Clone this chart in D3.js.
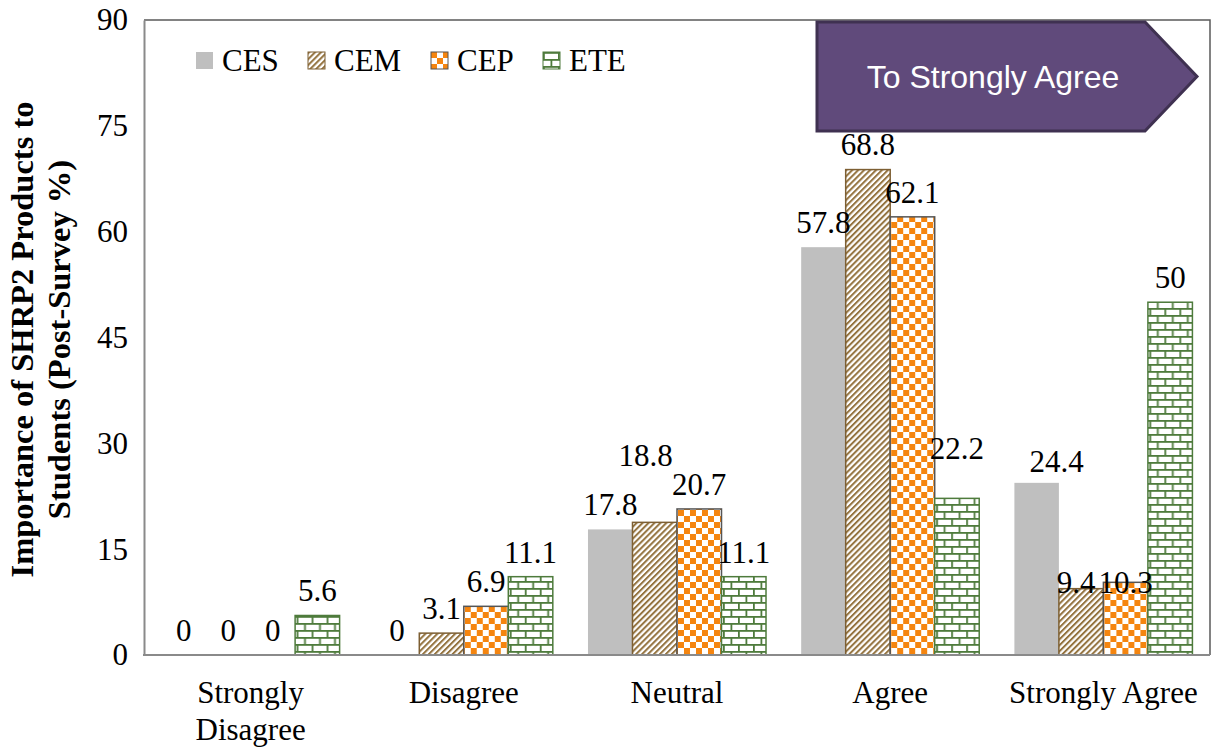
<!DOCTYPE html>
<html>
<head>
<meta charset="utf-8">
<script src="https://cdn.jsdelivr.net/npm/d3@7"></script>
<style>
  html, body { margin: 0; padding: 0; background: #fff; }
  svg { display: block; }
  .serif { font-family: "Liberation Serif", "Times New Roman", Tinos, "DejaVu Serif", serif; }
  .sans { font-family: "Liberation Sans", Arial, Helvetica, sans-serif; }
</style>
</head>
<body>
<script>
const categories = ["Strongly Disagree", "Disagree", "Neutral", "Agree", "Strongly Agree"];
const categoryLines = [["Strongly", "Disagree"], ["Disagree"], ["Neutral"], ["Agree"], ["Strongly Agree"]];
const seriesNames = ["CES", "CEM", "CEP", "ETE"];
const CES = [0, 0, 17.8, 57.8, 24.4];
const CEM = [0, 3.1, 18.8, 68.8, 9.4];
const CEP = [0, 6.9, 20.7, 62.1, 10.3];
const ETE = [5.6, 11.1, 11.1, 22.2, 50];
const yTicks = [0, 15, 30, 45, 60, 75, 90];
const yTitle = ["Importance of SHRP2 Products to", "Students (Post-Survey %)"];
const calloutText = "To Strongly Agree";
// manual label nudges (dx, dy) per series/category, as in the original
const labelNudge = {
  "CEM|Neutral": [-9, -42],
  "ETE|Agree": [0, -25],
  "CES|Strongly Agree": [20, 3],
  "CEM|Strongly Agree": [-5, 18],
  "CEP|Strongly Agree": [0, 25]
};

const seriesValues = { CES, CEM, CEP, ETE };

const W = 1219, H = 748;
const margin = { left: 144, right: 9, top: 20, bottom: 93 };
const FS = 31;
const svg = d3.select("body").append("svg").attr("width", W).attr("height", H);

const defs = svg.append("defs");
// CEM: upward diagonal stripes
const pCEM = defs.append("pattern").attr("id", "pCEM").attr("patternUnits", "userSpaceOnUse")
  .attr("width", 4.2).attr("height", 4.2).attr("patternTransform", "rotate(45)");
pCEM.append("rect").attr("width", 4.2).attr("height", 4.2).attr("fill", "#fff");
pCEM.append("rect").attr("x", 0).attr("width", 2).attr("height", 4.2).attr("fill", "#94733f");
// CEP: checkerboard
const pCEP = defs.append("pattern").attr("id", "pCEP").attr("patternUnits", "userSpaceOnUse")
  .attr("width", 12).attr("height", 12);
pCEP.append("rect").attr("width", 12).attr("height", 12).attr("fill", "#fff");
pCEP.append("rect").attr("x", 0).attr("y", 0).attr("width", 6).attr("height", 6).attr("fill", "#f5850f");
pCEP.append("rect").attr("x", 6).attr("y", 6).attr("width", 6).attr("height", 6).attr("fill", "#f5850f");
// ETE: horizontal bricks
const pETE = defs.append("pattern").attr("id", "pETE").attr("patternUnits", "userSpaceOnUse")
  .attr("width", 15).attr("height", 14);
pETE.append("rect").attr("width", 15).attr("height", 14).attr("fill", "#fff");
pETE.append("rect").attr("x", 0).attr("y", 0).attr("width", 15).attr("height", 1.8).attr("fill", "#4e7b3c");
pETE.append("rect").attr("x", 0).attr("y", 7).attr("width", 15).attr("height", 1.8).attr("fill", "#4e7b3c");
pETE.append("rect").attr("x", 0).attr("y", 0).attr("width", 1.8).attr("height", 7).attr("fill", "#4e7b3c");
pETE.append("rect").attr("x", 7.5).attr("y", 7).attr("width", 1.8).attr("height", 7).attr("fill", "#4e7b3c");

const styles = {
  CES: { fill: "#bfbfbf", stroke: "none" },
  CEM: { fill: "url(#pCEM)", stroke: "#7d5f33" },
  CEP: { fill: "url(#pCEP)", stroke: "#555555" },
  ETE: { fill: "url(#pETE)", stroke: "#4e7b3c" }
};

const x0 = d3.scaleBand().domain(categories).range([margin.left, W - margin.right])
  .paddingInner(0.165).paddingOuter(0.0825);
const x1 = d3.scaleBand().domain(seriesNames).range([0, x0.bandwidth()]).padding(0);
const y = d3.scaleLinear().domain([0, 90]).range([H - margin.bottom, margin.top]);

// frame (top & right)
svg.append("path")
  .attr("d", `M${margin.left},${margin.top}H${W - margin.right}V${y(0)}`)
  .attr("fill", "none").attr("stroke", "#5a5a5a").attr("stroke-width", 1.5);

// y axis
const yAxis = d3.axisLeft(y).tickValues(yTicks).tickSize(0).tickPadding(16);
const gy = svg.append("g").attr("transform", `translate(${margin.left},0)`).call(yAxis);
gy.attr("font-family", null).attr("font-size", null);
gy.select(".domain").attr("stroke", "#8a8a8a").attr("stroke-width", 2);
gy.selectAll("text").attr("class", "serif")
  .attr("font-size", FS).attr("fill", "#000");

// bars
const groups = svg.append("g").selectAll("g").data(categories).join("g")
  .attr("transform", d => `translate(${x0(d)},0)`);
groups.each(function (cat, ci) {
  const g = d3.select(this);
  seriesNames.forEach(s => {
    const v = seriesValues[s][ci];
    if (v > 0) {
      g.append("rect")
        .attr("x", x1(s)).attr("width", x1.bandwidth())
        .attr("y", y(v)).attr("height", y(0) - y(v))
        .attr("fill", styles[s].fill)
        .attr("stroke", styles[s].stroke).attr("stroke-width", 1.5);
    }
  });
});

// x axis line
svg.append("line").attr("x1", margin.left - 1).attr("x2", W - margin.right)
  .attr("y1", y(0)).attr("y2", y(0)).attr("stroke", "#8a8a8a").attr("stroke-width", 2);

// value labels
groups.each(function (cat, ci) {
  const g = d3.select(this);
  seriesNames.forEach(s => {
    const v = seriesValues[s][ci];
    const n = labelNudge[s + "|" + cat] || [0, 0];
    g.append("text").attr("class", "serif")
      .attr("x", x1(s) + x1.bandwidth() / 2 + n[0])
      .attr("y", y(v) - 25 + n[1])
      .attr("dy", "0.35em")
      .attr("text-anchor", "middle")
      .attr("font-size", FS).attr("fill", "#000")
      .text(v);
  });
});

// category labels
categories.forEach((c, i) => {
  const t = svg.append("text").attr("class", "serif")
    .attr("x", x0(c) + x0.bandwidth() / 2).attr("y", 703)
    .attr("text-anchor", "middle")
    .attr("font-size", FS).attr("fill", "#000");
  categoryLines[i].forEach((ln, li) => {
    t.append("tspan").attr("x", x0(c) + x0.bandwidth() / 2).attr("dy", li === 0 ? 0 : 37).text(ln);
  });
});

// y title
const yt = svg.append("text").attr("class", "serif")
  .attr("transform", `translate(0,${(y(0) + y(90)) / 2 + 2}) rotate(-90)`)
  .attr("text-anchor", "middle")
  .attr("font-weight", "bold").attr("font-size", 32.5).attr("fill", "#000");
yTitle.forEach((ln, i) => {
  yt.append("tspan").attr("x", 0).attr("y", i === 0 ? 33 : 70).text(ln);
});

// legend
const legendX = [196, 308, 431, 543];
seriesNames.forEach((s, i) => {
  const lg = svg.append("g").attr("transform", `translate(${legendX[i]},52)`);
  lg.append("rect").attr("width", 17).attr("height", 17)
    .attr("fill", styles[s].fill)
    .attr("stroke", styles[s].stroke).attr("stroke-width", 1);
  lg.append("text").attr("class", "serif").attr("x", 26).attr("y", 19)
    .attr("font-size", FS).attr("fill", "#000").text(s);
});

// callout arrow
const ax0 = 817, ay0 = 22, ax1 = 1145, ay1 = 131, tip = 1197;
svg.append("path")
  .attr("d", `M${ax0},${ay0}H${ax1}L${tip},${(ay0 + ay1) / 2}L${ax1},${ay1}H${ax0}Z`)
  .attr("fill", "#604a7b").attr("stroke", "#3f3151").attr("stroke-width", 3)
  .attr("stroke-linejoin", "miter");
svg.append("text").attr("class", "sans")
  .attr("x", 993).attr("y", (ay0 + ay1) / 2).attr("dy", "0.35em")
  .attr("text-anchor", "middle")
  .attr("font-size", 32).attr("fill", "#fff").text(calloutText);
</script>
</body>
</html>
